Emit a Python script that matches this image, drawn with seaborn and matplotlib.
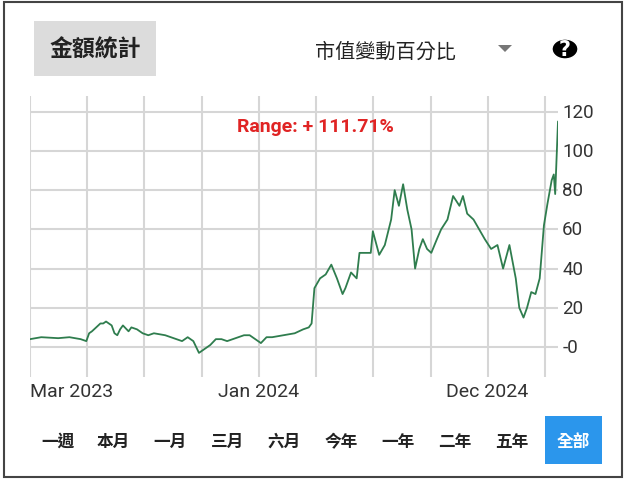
import matplotlib
matplotlib.use("Agg")
import matplotlib.pyplot as plt
import seaborn as sns
import numpy as np
import pandas as pd
from matplotlib.patches import Rectangle, Circle, Polygon

days = [0,16,40,56,72,80,84,88,100,104,108,116,120,124,128,132,140,144,152,160,168,176,192,200,216,224,232,240,244,256,264,272,280,296,304,312,320,328,336,344,360,376,388,396,400,404,412,420,428,436,444,448,456,464,468,476,484,487,496,504,513,518,524,530,536,542,547,553,558,564,570,578,584,593,601,610,615,621,630,638,646,655,664,672,681,690,695,701,706,712,718,724,730,735,741,744,746,750]
values = [4,5,4.5,5,4,3,7,8,12,12,13,11,7,6,9,11,8,10,9,7,6,7,6,5,3,5,3,-3,-2,1,4,4,3,5,6,6,4,2,5,5,6,7,9,10,12,30,35,37,42,35,27,30,38,35,48,48,48,59,47,52,65,80,72,83,70,60,40,50,55,50,48,55,60,65,77,72,77,68,65,60,55,50,52,40,52,35,20,15,20,28,27,35,62,73,85,88,78,115]
yticks = [0,20,40,60,80,100,120]
ytick_labels = ["-0","20","40","60","80","100","120"]
grid_step = 81.3
date_labels = [(0, "Mar 2023"), (325, "Jan 2024"), (650, "Dec 2024")]
buttons = ["一週","本月","一月","三月","六月","今年","一年","二年","五年","全部"]
title = "金額統計"
dropdown = "市值變動百分比"
range_text = "Range: + 111.71%"

sns.set_style("white")
plt.rcParams['font.family'] = ['Roboto', 'Noto Sans CJK TC', 'DejaVu Sans']
CJK = ['Noto Sans CJK TC', 'DejaVu Sans']

W, H = 631, 485
fig = plt.figure(figsize=(W/100, H/100), dpi=100)
fig.patch.set_facecolor("white")

def fx(x): return x / W
def fy(y): return 1 - y / H

fig.patches.append(Rectangle((fx(4), fy(478)), fx(618), 475/H, transform=fig.transFigure,
                             fill=False, edgecolor="#444444", lw=1.5))
fig.patches.append(Rectangle((fx(34), fy(77)), fx(122), 55/H, transform=fig.transFigure,
                             facecolor="#dcdcdc", edgecolor="none"))
fig.text(fx(95), fy(50), title, ha="center", va="center", fontsize=16.5, fontweight="bold",
         family=CJK, color="#222222")
fig.text(fx(385), fy(52), dropdown, ha="center", va="center", fontsize=14.5,
         family=CJK, color="#222222")
fig.patches.append(Polygon([(fx(498), fy(46)), (fx(512), fy(46)), (fx(505), fy(53))],
                           closed=True, transform=fig.transFigure, facecolor="#777777", edgecolor="none"))
fig.patches.append(Circle((fx(565), fy(50)), 13/W, transform=fig.transFigure, facecolor="black"))
fig.text(fx(565), fy(50), "?", ha="center", va="center", fontsize=15, fontweight="bold", color="white",
         family=['DejaVu Sans'])

ax_l, ax_r, ax_t, ax_b = 30, 558, 97, 378
ax = fig.add_axes([fx(ax_l), fy(ax_b), (ax_r-ax_l)/W, (ax_b-ax_t)/H])
df = pd.DataFrame({"day": days, "value": values})
sns.lineplot(data=df, x="day", y="value", ax=ax, color="#2f7d4e", lw=1.3)
ax.set_xlim(0, 750)
ax.set_ylim(-15.3, 128)
for s in ax.spines.values():
    s.set_visible(False)
ax.set_xticks([]); ax.set_yticks([])
ax.set_xlabel(""); ax.set_ylabel("")
for k in range(10):
    ax.axvline(k*grid_step, color="#d6d6d6", lw=1.5, zorder=0)
for t in yticks:
    ax.axhline(t, color="#d6d6d6", lw=1.5, zorder=0)
for t, lab in zip(yticks, ytick_labels):
    ax.annotate(lab, xy=(1, t), xycoords=("axes fraction", "data"), xytext=(3, 0),
                textcoords="offset points", ha="left", va="center", fontsize=13.5, color="#333333")
ax.text(0.54, 0.895, range_text, transform=ax.transAxes, ha="center", va="center",
        color="#e02424", fontsize=14, fontweight="bold")

for d, lab in date_labels:
    xp = ax_l + d/750*(ax_r-ax_l)
    fig.text(fx(xp), fy(392), lab, ha="left" if d == 0 else "center", va="center",
             fontsize=14, color="#333333")

centers = [58,113,170,228,284,341,398,455,512,573]
fig.patches.append(Rectangle((fx(545), fy(465)), fx(57), 48/H, transform=fig.transFigure,
                             facecolor="#2b96ec", edgecolor="none"))
for c, b in zip(centers, buttons):
    fig.text(fx(c), fy(442), b, ha="center", va="center", fontsize=12, fontweight="bold",
             color="white" if b == "全部" else "#222222", family=CJK)

fig.savefig("out.png", dpi=100)
